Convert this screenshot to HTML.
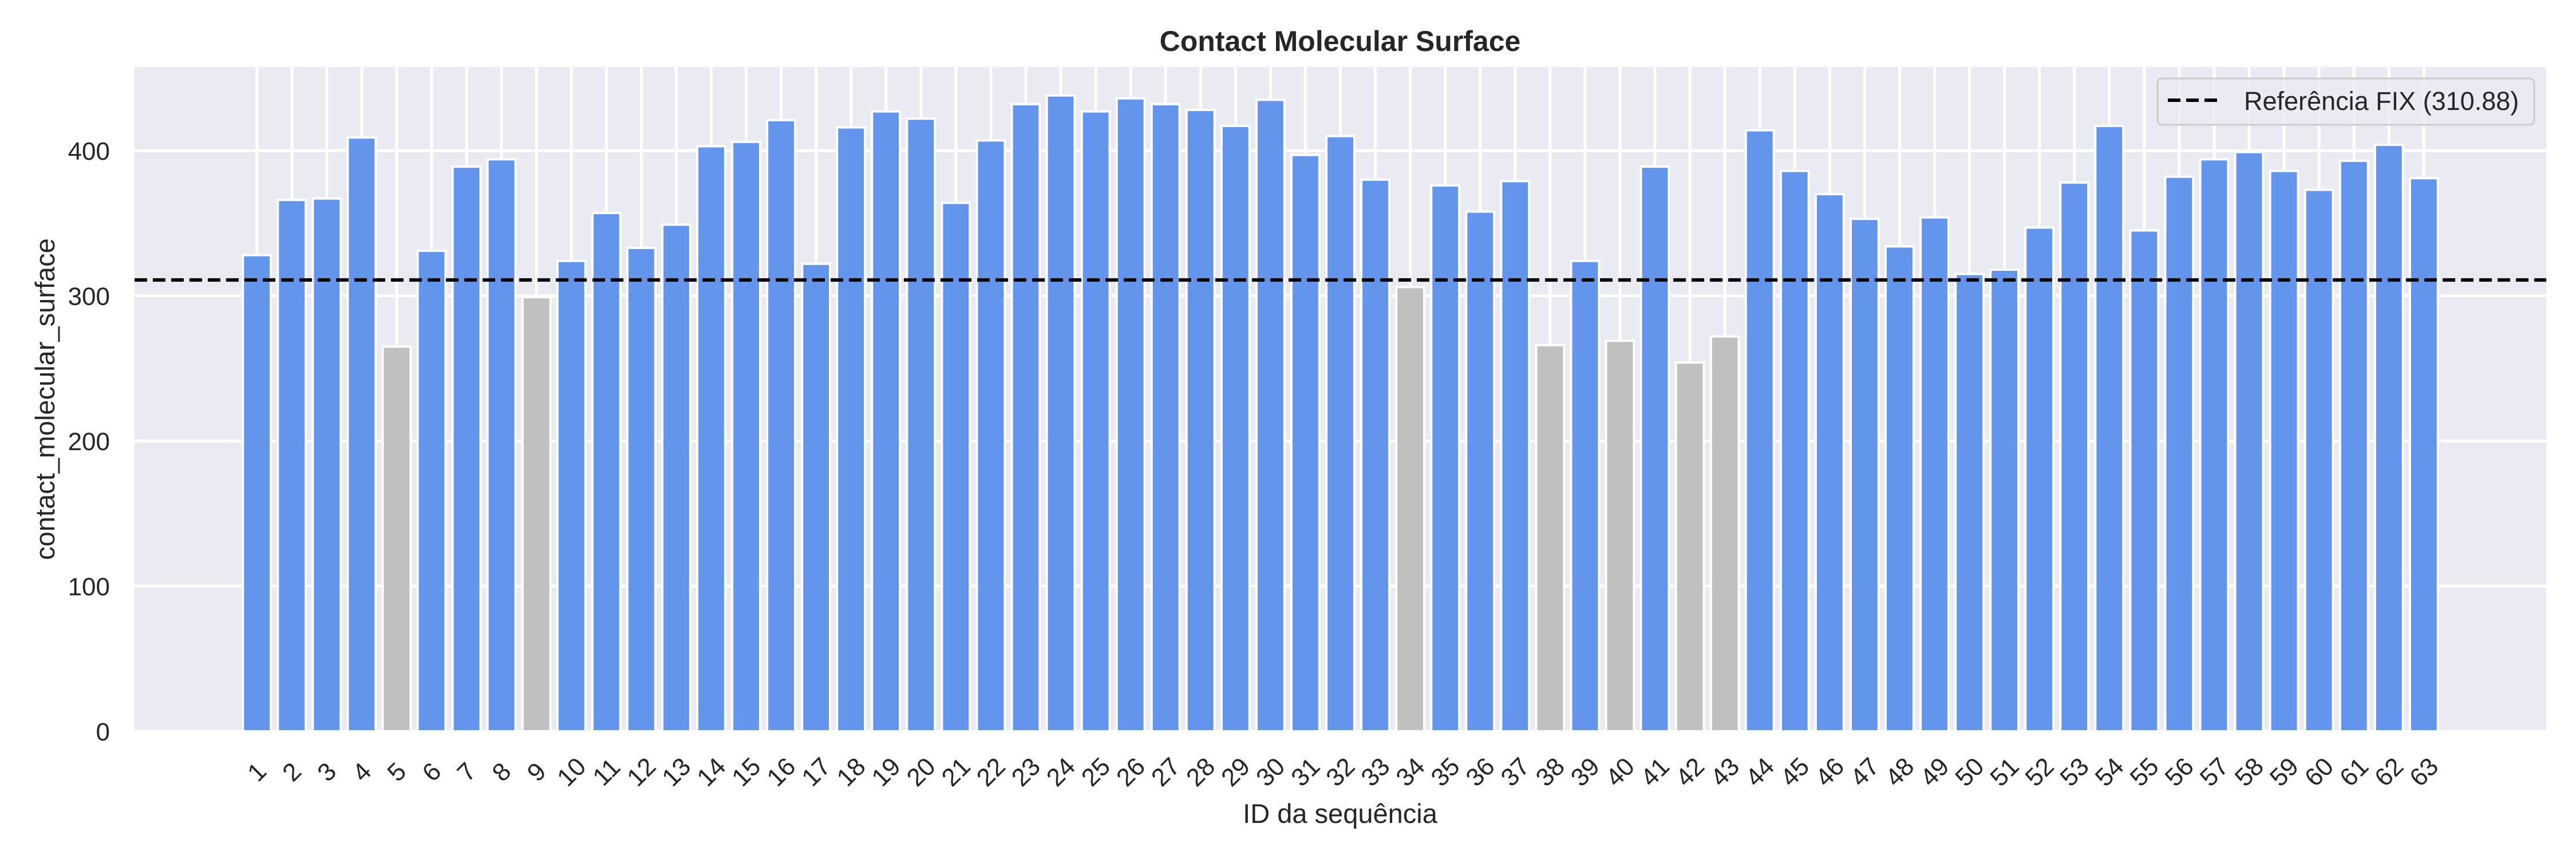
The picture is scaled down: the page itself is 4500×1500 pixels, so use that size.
<!DOCTYPE html>
<html><head><meta charset="utf-8">
<style>
html,body{margin:0;padding:0;background:#fff;}
svg{display:block;font-family:"Liberation Sans",Arial,sans-serif;}
</style></head>
<body>
<svg id="chart" width="4500" height="1500" viewBox="0 0 4500 1500" xmlns="http://www.w3.org/2000/svg">
<rect x="0" y="0" width="4500" height="1500" fill="#ffffff"/>
<rect x="235" y="117" width="4213" height="1160" fill="#eaeaf2"/>
<g id="grid"></g>
<g id="bars"></g>
<g id="refline"></g>
<g id="yticks"></g>
<g id="xticks"></g>
<text x="2341" y="89" text-anchor="middle" font-size="50" font-weight="bold" fill="#262626">Contact Molecular Surface</text>
<text x="2341" y="1437" text-anchor="middle" font-size="47" fill="#262626">ID da sequência</text>
<text transform="translate(95,697) rotate(-90)" text-anchor="middle" font-size="47" fill="#262626">contact_molecular_surface</text>
<g>
<rect x="3769" y="137" width="658" height="81" rx="8" fill="#eaeaf2" fill-opacity="0.8" stroke="#cccccc" stroke-width="3"/>
<line x1="3787" y1="175" x2="3880" y2="175" stroke="#000" stroke-width="6" stroke-dasharray="22,10"/>
<text x="3920" y="192" font-size="45" fill="#262626">Referência FIX (310.88)</text>
</g>
</svg>
<script>
const categories = Array.from({length:63},(_,i)=>String(i+1));
const values = [328,366,367,409,265,331,389,394,299,324,357,333,349,403,406,421,322,416,427,422,364,407,432,438,427,436,432,428,417,435,397,410,380,306,376,358,379,266,324,269,389,254,272,414,386,370,353,334,354,315,318,347,378,417,345,382,394,399,386,373,393,404,381];
const refValue = 310.88;
const yTicks = [0,100,200,300,400];

const NS="http://www.w3.org/2000/svg";
const L=235,R=4448,T=117,B=1277;
const xMin=-3.5,xMax=categories.length-1+3.5,yMin=0,yMax=457.6;
function xs(i){return L+(i-xMin)/(xMax-xMin)*(R-L);}
function ys(v){return B-(v-yMin)/(yMax-yMin)*(B-T);}
const step=xs(1)-xs(0);
function mk(tag,attrs,parent){const e=document.createElementNS(NS,tag);for(const k in attrs)e.setAttribute(k,attrs[k]);parent.appendChild(e);return e;}

const grid=document.getElementById('grid');
yTicks.forEach(t=>{
  const l=mk('line',{x1:L,x2:R,y1:ys(t),y2:ys(t),stroke:'#fff','stroke-width':5},grid);
  
  
});
categories.forEach((c,i)=>{
  const l=mk('line',{x1:xs(i),x2:xs(i),y1:T,y2:B,stroke:'#fff','stroke-width':5},grid);
  
  
});

const bars=document.getElementById('bars');
values.forEach((v,i)=>{
  const w=step*0.8;
  const r=mk('rect',{x:xs(i)-w/2,y:ys(v),width:w,height:ys(0)-ys(v),fill:v<refValue?'#c0c0c0':'#6495ed',stroke:'#fff','stroke-width':4},bars);
  
  
});

const ref=document.getElementById('refline');
const rl=mk('line',{x1:L,x2:R,y1:ys(refValue),y2:ys(refValue),stroke:'#000','stroke-width':6,'stroke-dasharray':'22,10'},ref);



const yt=document.getElementById('yticks');
yTicks.forEach(t=>{
  const tx=mk('text',{x:192,y:ys(t)+16,'text-anchor':'end','font-size':44,fill:'#262626'},yt);
  tx.textContent=String(t);
  
  
});

const xt=document.getElementById('xticks');
categories.forEach((c,i)=>{
  const x=xs(i),y=1348;
  const tx=mk('text',{x:x,y:y+15,'text-anchor':'middle','font-size':44,fill:'#262626',transform:'rotate(-45 '+x+' '+y+')'},xt);
  tx.textContent=c;
  
  
});
</script>
</body></html>
